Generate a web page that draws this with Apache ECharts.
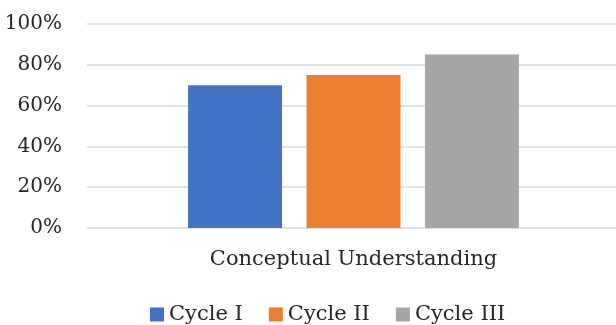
<!DOCTYPE html>
<html>
<head>
<meta charset="utf-8">
<script src="https://cdn.jsdelivr.net/npm/echarts@6/dist/echarts.min.js"></script>
<style>
  html, body { margin: 0; padding: 0; background: #fff; }
  #chart { width: 616px; height: 325px; }
</style>
</head>
<body>
<div id="chart"></div>
<script>
// Category and per-cycle scores (percent)
const categories = ['Conceptual Understanding'];
const cycleNames = ['Cycle I', 'Cycle II', 'Cycle III'];
const cycle1 = [70];
const cycle2 = [75];
const cycle3 = [85];
const seriesValues = [cycle1, cycle2, cycle3];
const colors = ['#4472C4', '#ED7D31', '#A5A5A5'];

const fontFamily = '"DejaVu Serif", "Liberation Serif", serif';
const textColor = '#262626';

const chart = echarts.init(document.getElementById('chart'), null, { renderer: 'canvas' });

chart.setOption({
  animation: false,
  textStyle: { fontFamily: fontFamily },
  // plot area runs a little past the right edge of the canvas
  grid: {
    left: 87, top: 24, width: 533, height: 204,
    containLabel: false, outerBoundsMode: 'none'
  },
  xAxis: {
    type: 'category',
    data: categories,
    axisLine: { show: false },
    axisTick: { show: false },
    axisLabel: { color: textColor, fontSize: 21, fontFamily: fontFamily, margin: 21 }
  },
  yAxis: {
    type: 'value',
    min: 0,
    max: 100,
    interval: 20,
    axisLine: { show: false },
    axisTick: { show: false },
    axisLabel: {
      color: textColor, fontSize: 20, fontFamily: fontFamily, margin: 25,
      formatter: v => v + '%'
    },
    splitLine: { lineStyle: { color: '#D9D9D9', width: 1.5 } }
  },
  legend: {
    data: cycleNames,
    top: 299,
    left: 145,
    itemWidth: 14,
    itemHeight: 14,
    itemGap: 26,
    icon: 'rect',
    textStyle: { color: textColor, fontSize: 21, fontFamily: fontFamily }
  },
  series: cycleNames.map((name, i) => ({
    name: name,
    type: 'bar',
    data: seriesValues[i],
    barWidth: 94,
    barGap: '26%',
    itemStyle: { color: colors[i] }
  }))
});
</script>
</body>
</html>
